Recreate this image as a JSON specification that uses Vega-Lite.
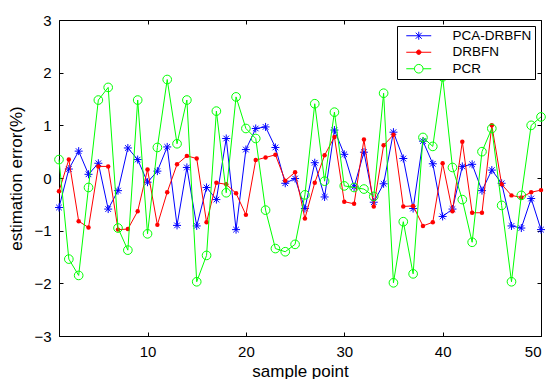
{
  "$schema": "https://vega.github.io/schema/vega-lite/v6.json",
  "width": 482,
  "height": 316,
  "autosize": {"type": "none"},
  "padding": {"left": 59, "top": 20, "right": 10, "bottom": 43},
  "background": "white",
  "config": {
    "view": {"stroke": "black", "strokeWidth": 1},
    "axis": {
      "grid": false,
      "domainColor": "black",
      "domainWidth": 1,
      "tickColor": "black",
      "tickWidth": 1,
      "tickSize": -4,
      "labelColor": "black",
      "titleColor": "black",
      "labelFont": "Liberation Sans",
      "titleFont": "Liberation Sans",
      "labelFontSize": 15,
      "titleFontSize": 17,
      "titleFontWeight": "normal"
    }
  },
  "data": {"values": [
    {"s":"PCA-DRBFN","x":1,"y":-0.56},{"s":"PCA-DRBFN","x":2,"y":0.17},{"s":"PCA-DRBFN","x":3,"y":0.51},{"s":"PCA-DRBFN","x":4,"y":0.07},{"s":"PCA-DRBFN","x":5,"y":0.28},
    {"s":"PCA-DRBFN","x":6,"y":-0.59},{"s":"PCA-DRBFN","x":7,"y":-0.24},{"s":"PCA-DRBFN","x":8,"y":0.57},{"s":"PCA-DRBFN","x":9,"y":0.35},{"s":"PCA-DRBFN","x":10,"y":-0.08},
    {"s":"PCA-DRBFN","x":11,"y":0.13},{"s":"PCA-DRBFN","x":12,"y":0.59},{"s":"PCA-DRBFN","x":13,"y":-0.90},{"s":"PCA-DRBFN","x":14,"y":0.20},{"s":"PCA-DRBFN","x":15,"y":-0.91},
    {"s":"PCA-DRBFN","x":16,"y":-0.18},{"s":"PCA-DRBFN","x":17,"y":-0.41},{"s":"PCA-DRBFN","x":18,"y":0.75},{"s":"PCA-DRBFN","x":19,"y":-0.98},{"s":"PCA-DRBFN","x":20,"y":0.54},
    {"s":"PCA-DRBFN","x":21,"y":0.94},{"s":"PCA-DRBFN","x":22,"y":0.97},{"s":"PCA-DRBFN","x":23,"y":0.58},{"s":"PCA-DRBFN","x":24,"y":-0.10},{"s":"PCA-DRBFN","x":25,"y":-0.01},
    {"s":"PCA-DRBFN","x":26,"y":-0.58},{"s":"PCA-DRBFN","x":27,"y":0.29},{"s":"PCA-DRBFN","x":28,"y":-0.36},{"s":"PCA-DRBFN","x":29,"y":0.91},{"s":"PCA-DRBFN","x":30,"y":0.45},
    {"s":"PCA-DRBFN","x":31,"y":-0.17},{"s":"PCA-DRBFN","x":32,"y":0.49},{"s":"PCA-DRBFN","x":33,"y":-0.46},{"s":"PCA-DRBFN","x":34,"y":-0.11},{"s":"PCA-DRBFN","x":35,"y":0.87},
    {"s":"PCA-DRBFN","x":36,"y":0.37},{"s":"PCA-DRBFN","x":37,"y":-0.58},{"s":"PCA-DRBFN","x":38,"y":0.70},{"s":"PCA-DRBFN","x":39,"y":0.27},{"s":"PCA-DRBFN","x":40,"y":-0.73},
    {"s":"PCA-DRBFN","x":41,"y":-0.59},{"s":"PCA-DRBFN","x":42,"y":0.22},{"s":"PCA-DRBFN","x":43,"y":0.26},{"s":"PCA-DRBFN","x":44,"y":-0.24},{"s":"PCA-DRBFN","x":45,"y":0.15},
    {"s":"PCA-DRBFN","x":46,"y":-0.10},{"s":"PCA-DRBFN","x":47,"y":-0.91},{"s":"PCA-DRBFN","x":48,"y":-0.95},{"s":"PCA-DRBFN","x":49,"y":-0.39},{"s":"PCA-DRBFN","x":50,"y":-0.98},
    {"s":"DRBFN","x":1,"y":-0.25},{"s":"DRBFN","x":2,"y":0.35},{"s":"DRBFN","x":3,"y":-0.82},{"s":"DRBFN","x":4,"y":-0.94},{"s":"DRBFN","x":5,"y":0.22},
    {"s":"DRBFN","x":6,"y":0.22},{"s":"DRBFN","x":7,"y":-0.98},{"s":"DRBFN","x":8,"y":-0.97},{"s":"DRBFN","x":9,"y":-0.63},{"s":"DRBFN","x":10,"y":0.16},
    {"s":"DRBFN","x":11,"y":-0.89},{"s":"DRBFN","x":12,"y":-0.27},{"s":"DRBFN","x":13,"y":0.26},{"s":"DRBFN","x":14,"y":0.42},{"s":"DRBFN","x":15,"y":0.37},
    {"s":"DRBFN","x":16,"y":-0.84},{"s":"DRBFN","x":17,"y":-0.09},{"s":"DRBFN","x":18,"y":-0.12},{"s":"DRBFN","x":19,"y":-0.29},{"s":"DRBFN","x":20,"y":-0.70},
    {"s":"DRBFN","x":21,"y":0.34},{"s":"DRBFN","x":22,"y":0.39},{"s":"DRBFN","x":23,"y":0.44},{"s":"DRBFN","x":24,"y":-0.05},{"s":"DRBFN","x":25,"y":0.11},
    {"s":"DRBFN","x":26,"y":-0.77},{"s":"DRBFN","x":27,"y":-0.09},{"s":"DRBFN","x":28,"y":0.43},{"s":"DRBFN","x":29,"y":0.78},{"s":"DRBFN","x":30,"y":-0.45},
    {"s":"DRBFN","x":31,"y":-0.49},{"s":"DRBFN","x":32,"y":0.73},{"s":"DRBFN","x":33,"y":-0.54},{"s":"DRBFN","x":34,"y":0.62},{"s":"DRBFN","x":35,"y":0.82},
    {"s":"DRBFN","x":36,"y":-0.54},{"s":"DRBFN","x":37,"y":-0.53},{"s":"DRBFN","x":38,"y":-0.91},{"s":"DRBFN","x":39,"y":-0.84},{"s":"DRBFN","x":40,"y":0.28},
    {"s":"DRBFN","x":41,"y":-0.63},{"s":"DRBFN","x":42,"y":0.69},{"s":"DRBFN","x":43,"y":-0.66},{"s":"DRBFN","x":44,"y":-0.66},{"s":"DRBFN","x":45,"y":1.00},
    {"s":"DRBFN","x":46,"y":-0.12},{"s":"DRBFN","x":47,"y":-0.33},{"s":"DRBFN","x":48,"y":-0.37},{"s":"DRBFN","x":49,"y":-0.27},{"s":"DRBFN","x":50,"y":-0.23},
    {"s":"PCR","x":1,"y":0.35},{"s":"PCR","x":2,"y":-1.54},{"s":"PCR","x":3,"y":-1.85},{"s":"PCR","x":4,"y":-0.18},{"s":"PCR","x":5,"y":1.48},
    {"s":"PCR","x":6,"y":1.72},{"s":"PCR","x":7,"y":-0.95},{"s":"PCR","x":8,"y":-1.37},{"s":"PCR","x":9,"y":1.48},{"s":"PCR","x":10,"y":-1.06},
    {"s":"PCR","x":11,"y":0.58},{"s":"PCR","x":12,"y":1.87},{"s":"PCR","x":13,"y":0.65},{"s":"PCR","x":14,"y":1.48},{"s":"PCR","x":15,"y":-1.97},
    {"s":"PCR","x":16,"y":-1.47},{"s":"PCR","x":17,"y":1.27},{"s":"PCR","x":18,"y":-0.28},{"s":"PCR","x":19,"y":1.54},{"s":"PCR","x":20,"y":0.94},
    {"s":"PCR","x":21,"y":0.75},{"s":"PCR","x":22,"y":-0.61},{"s":"PCR","x":23,"y":-1.34},{"s":"PCR","x":24,"y":-1.40},{"s":"PCR","x":25,"y":-1.26},
    {"s":"PCR","x":26,"y":-0.32},{"s":"PCR","x":27,"y":1.41},{"s":"PCR","x":28,"y":-0.06},{"s":"PCR","x":29,"y":1.25},{"s":"PCR","x":30,"y":-0.15},
    {"s":"PCR","x":31,"y":-0.18},{"s":"PCR","x":32,"y":-0.21},{"s":"PCR","x":33,"y":-0.35},{"s":"PCR","x":34,"y":1.61},{"s":"PCR","x":35,"y":-1.99},
    {"s":"PCR","x":36,"y":-0.83},{"s":"PCR","x":37,"y":-1.82},{"s":"PCR","x":38,"y":0.77},{"s":"PCR","x":39,"y":0.60},{"s":"PCR","x":40,"y":1.92},
    {"s":"PCR","x":41,"y":0.20},{"s":"PCR","x":42,"y":-0.41},{"s":"PCR","x":43,"y":-1.22},{"s":"PCR","x":44,"y":0.50},{"s":"PCR","x":45,"y":0.94},
    {"s":"PCR","x":46,"y":-0.52},{"s":"PCR","x":47,"y":-1.97},{"s":"PCR","x":48,"y":-0.33},{"s":"PCR","x":49,"y":1.00},{"s":"PCR","x":50,"y":1.16}
  ]},
  "layer": [
    {
      "encoding": {
        "x": {"field": "x", "type": "quantitative",
          "scale": {"domain": [1, 50], "nice": false, "zero": false},
          "axis": {"values": [10, 20, 30, 40, 50], "labelPadding": 12, "title": "sample point", "titlePadding": 4}},
        "y": {"field": "y", "type": "quantitative",
          "scale": {"domain": [-3, 3], "nice": false, "zero": false},
          "axis": {"values": [-3, -2, -1, 0, 1, 2, 3], "labelPadding": 12, "title": "estimation error(%)", "titlePadding": 8}},
        "color": {"field": "s", "type": "nominal",
          "scale": {"domain": ["PCA-DRBFN", "DRBFN", "PCR"], "range": ["#0000ff", "#ff0000", "#00ff00"]},
          "legend": {
            "title": null, "orient": "none", "legendX": 338, "legendY": 6,
            "strokeColor": "black", "fillColor": "white", "padding": 3, "cornerRadius": 0,
            "symbolSize": 144, "symbolStrokeWidth": 1, "symbolOffset": 12, "labelOffset": 27,
            "labelFont": "Liberation Sans", "labelFontSize": 13.5, "labelColor": "black", "rowPadding": 1.5,
            "encode": {"symbols": {"update": {
              "shape": {"signal": "datum.value === 'PCA-DRBFN' ? 'M-2.08,0L2.08,0M0,-0.67L0,0.67M-0.5,-0.5L0.5,0.5M-0.5,0.5L0.5,-0.5' : datum.value === 'DRBFN' ? 'M-2.08,0L2.08,0M0.37,0C0.37,0.204,0.204,0.37,0,0.37C-0.204,0.37,-0.37,0.204,-0.37,0C-0.37,-0.204,-0.204,-0.37,0,-0.37C0.204,-0.37,0.37,-0.204,0.37,0Z' : 'M-2.08,0L-0.72,0M0.72,0L2.08,0M0.72,0C0.72,0.398,0.398,0.72,0,0.72C-0.398,0.72,-0.72,0.398,-0.72,0C-0.72,-0.398,-0.398,-0.72,0,-0.72C0.398,-0.72,0.72,-0.398,0.72,0Z'"},
              "fill": {"signal": "datum.value === 'DRBFN' ? '#ff0000' : 'white'"},
              "fillOpacity": {"signal": "datum.value === 'DRBFN' ? 1 : 0"},
              "stroke": {"signal": "datum.value === 'PCA-DRBFN' ? '#0000ff' : datum.value === 'DRBFN' ? '#ff0000' : '#00ff00'"},
              "strokeWidth": {"value": 1},
              "opacity": {"value": 1}
            }}}
          }}
      },
      "layer": [
        {"transform": [{"filter": "datum.s === 'PCA-DRBFN'"}], "mark": {"type": "line", "strokeWidth": 1}},
        {"transform": [{"filter": "datum.s === 'PCA-DRBFN'"}], "mark": {"type": "point", "shape": "M-1,0L1,0M0,-1L0,1M-0.7,-0.7L0.7,0.7M-0.7,0.7L0.7,-0.7", "size": 64, "filled": false, "strokeWidth": 1, "opacity": 1}},
        {"transform": [{"filter": "datum.s === 'DRBFN'"}], "mark": {"type": "line", "strokeWidth": 1}},
        {"transform": [{"filter": "datum.s === 'DRBFN'"}], "mark": {"type": "point", "shape": "circle", "size": 20, "filled": true, "opacity": 1}},
        {"transform": [{"filter": "datum.s === 'PCR'"}], "mark": {"type": "line", "strokeWidth": 1}},
        {"transform": [{"filter": "datum.s === 'PCR'"}], "mark": {"type": "point", "shape": "circle", "size": 75, "filled": false, "strokeWidth": 1, "opacity": 1}}
      ]
    },
    {
      "mark": {"type": "point", "opacity": 0},
      "encoding": {
        "x": {"field": "x", "type": "quantitative",
          "scale": {"domain": [1, 50], "nice": false, "zero": false},
          "axis": {"orient": "top", "values": [10, 20, 30, 40, 50], "labels": false, "title": null, "domain": false}},
        "y": {"field": "y", "type": "quantitative",
          "scale": {"domain": [-3, 3], "nice": false, "zero": false},
          "axis": {"orient": "right", "values": [-3, -2, -1, 0, 1, 2, 3], "labels": false, "title": null, "domain": false}}
      }
    }
  ],
  "resolve": {"axis": {"x": "independent", "y": "independent"}}
}
